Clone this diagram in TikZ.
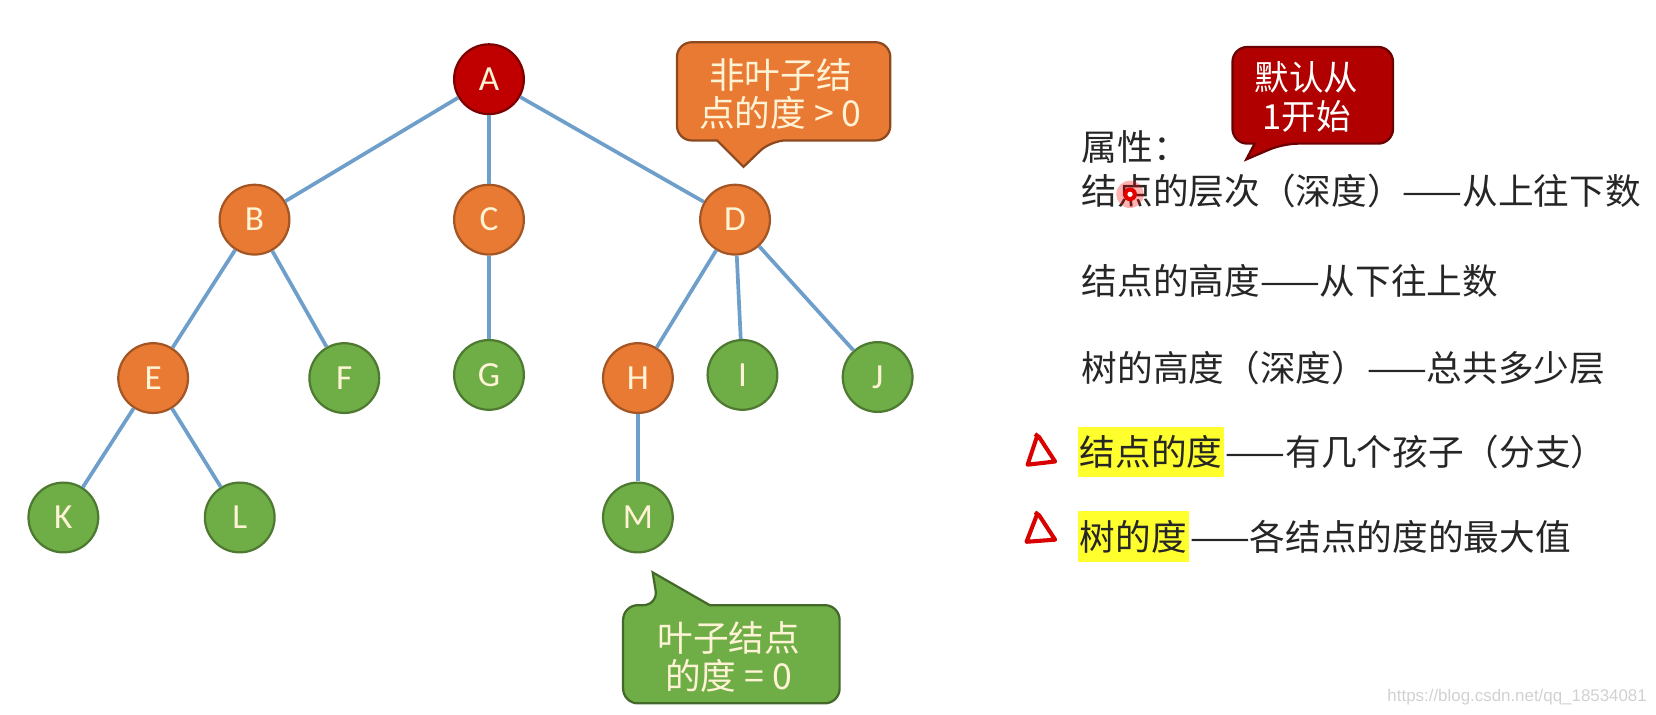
\documentclass[tikz,border=0pt]{standalone}
\usepackage{fontspec}
\setmainfont{Carlito}
\newfontfamily\cjk{Noto Sans CJK SC}
\newfontfamily\urlfont{Liberation Sans}
\usepackage{tikz}
\usetikzlibrary{positioning}

\definecolor{rootred}{HTML}{C00000}
\definecolor{midorange}{HTML}{E97A34}
\definecolor{leafgreen}{HTML}{6FAD46}
\definecolor{linkblue}{HTML}{6E9FCB}
\definecolor{cream}{HTML}{FFF3D6}
\definecolor{hl}{HTML}{FFFF2E}
\definecolor{bodytext}{HTML}{262626}

\begin{document}
\begin{tikzpicture}[x=0.01cm,y=-0.01cm,
    vert/.style={circle,minimum size=0.66cm,inner sep=0pt,line width=0.6pt,
      text=cream,font=\fontsize{9.5}{10}\selectfont},
    rootv/.style={vert,fill=rootred,draw=rootred!65!black},
    midv/.style={vert,fill=midorange,draw=midorange!70!black},
    leafv/.style={vert,fill=leafgreen,draw=leafgreen!70!black},
    link/.style={draw=linkblue,line width=1pt},
    bubble/.style={line width=0.6pt,rounded corners=0.14cm},
    notetext/.style={align=center,inner sep=0pt,text=cream,
      font=\cjk\fontsize{9.6}{10.3}\selectfont},
    txt/.style={anchor=west,inner xsep=0.5pt,inner ysep=2.3pt,text=bodytext,
      font=\cjk\fontsize{9.6}{12}\selectfont},
    tri/.style={draw=red!85!black,line width=1.1pt,line join=round}]
  \useasboundingbox (0,0) rectangle (1568,677);

  % tree
  \node[rootv] (A) at (463,75) {A};
  \node[midv] (B) at (241,208) {B};
  \node[midv] (C) at (463,208) {C};
  \node[midv] (D) at (696,208) {D};
  \node[midv] (E) at (145,358) {E};
  \node[leafv] (F) at (326,358) {F};
  \node[leafv] (G) at (463,355) {G};
  \node[midv] (H) at (604,358) {H};
  \node[leafv] (I) at (703,355) {I};
  \node[leafv] (J) at (831,357) {J};
  \node[leafv] (K) at (60,490) {K};
  \node[leafv] (L) at (227,490) {L};
  \node[leafv] (M) at (604,490) {M};

  \draw[link] (A) -- (B);
  \draw[link] (A) -- (C);
  \draw[link] (A) -- (D);
  \draw[link] (B) -- (E);
  \draw[link] (B) -- (F);
  \draw[link] (C) -- (G);
  \draw[link] (D) -- (H);
  \draw[link] (D) -- (I);
  \draw[link] (D) -- (J);
  \draw[link] (E) -- (K);
  \draw[link] (E) -- (L);
  \draw[link] (H) -- (M);

  % callouts
  \draw[bubble,fill=midorange,draw=midorange!60!black]
    (742,40) -- (843,40) -- (843,133) -- (730,133) [sharp corners]
    -- (704,158) -- (679,133) [rounded corners=0.14cm] -- (641,133)
    -- (641,40) -- cycle;
  \node[notetext] (inote) at (739,89) {非叶子结\\点的度 > 0};

  \draw[bubble,fill=leafgreen,draw=leafgreen!60!black]
    (692,666) -- (590,666) -- (590,573) -- (623,573) [sharp corners]
    -- (618,542) -- (672,573) [rounded corners=0.14cm] -- (795,573)
    -- (795,666) -- cycle;
  \node[notetext] (lnote) at (690,622) {叶子结点\\的度 = 0};

  \draw[bubble,fill=rootred!92!black,draw=rootred!55!black]
    (1243,44.5) -- (1319,44.5) -- (1319,136) -- (1215,136) [sharp corners]
    -- (1180,151) -- (1188,136) [rounded corners=0.14cm] -- (1167,136)
    -- (1167,44.5) -- cycle;
  \node[notetext,text=white,font=\cjk\fontsize{9.3}{10.5}\selectfont]
    (dnote) at (1237,91.5) {默认从\\1开始};

  % properties
  \node[txt] (prop) at (1022,139) {属性：};
  \node[txt] (lvl) at (1022,181) {结点的层次（深度）——从上往下数};
  \node[txt] (nh) at (1022,266) {结点的高度——从下往上数};
  \node[txt] (th) at (1022,348) {树的高度（深度）——总共多少层};
  \node[txt,fill=hl] (nd) at (1020,428) {结点的度};
  \node[txt,inner xsep=0pt,right=0pt of nd] (ndr) {——有几个孩子（分支）};
  \node[txt,fill=hl] (td) at (1020,508) {树的度};
  \node[txt,inner xsep=0pt,right=0pt of td] (tdr) {——各结点的度的最大值};

  % marks
  \draw[tri] (982,413) -- (973,440) -- (999,437) -- (984,414) -- (980,411);
  \draw[tri] (982,487) -- (972,513) -- (999,511) -- (984,488) -- (980,485);
  \fill[red,opacity=0.3] (1070,184) circle (0.13cm);
  \fill[red!90!black] (1070,184) circle (0.065cm);
  \fill[white] (1070,184) circle (0.025cm);

  \node[anchor=east,text=black!18,inner sep=0pt,
    font=\urlfont\fontsize{4.55}{5}\selectfont] (url) at (1560,660)
    {https://blog.csdn.net/qq\_18534081};
\end{tikzpicture}
\end{document}
